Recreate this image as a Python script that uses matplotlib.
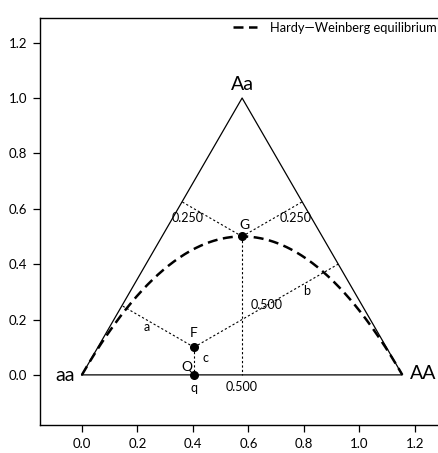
import numpy as np
import matplotlib
matplotlib.use("Agg")
import matplotlib.pyplot as plt

plt.rcParams["font.family"] = ["Lato", "DejaVu Sans"]

# Genotype frequencies (AA, Aa, aa) for the two marked populations
G_freq = [0.25, 0.50, 0.25]
F_freq = [0.30, 0.10, 0.60]
vertex_labels = ["aa", "AA", "Aa"]
tick_values = [0.0, 0.2, 0.4, 0.6, 0.8, 1.0, 1.2]
legend_label = "Hardy\u2014Weinberg equilibrium"

S3 = np.sqrt(3.0)


def to_xy(AA, Aa, aa):
    """Ternary genotype frequencies -> cartesian position in the triangle."""
    return (2 * AA + Aa) / S3, Aa


def foot(p, a, b):
    p, a, b = map(np.asarray, (p, a, b))
    d = b - a
    t = np.dot(p - a, d) / np.dot(d, d)
    return a + t * d


fig = plt.figure(figsize=(4.38, 4.53), dpi=100)
ax = fig.add_axes([0.0913, 0.0618, 0.932, 0.8985])
ax.set_xlim(-0.151, 1.32)
ax.set_ylim(-0.181, 1.289)

# triangle
V_aa = np.array(to_xy(0, 0, 1))
V_AA = np.array(to_xy(1, 0, 0))
V_Aa = np.array(to_xy(0, 1, 0))
tri = np.array([V_aa, V_AA, V_Aa, V_aa])
ax.plot(tri[:, 0], tri[:, 1], color="black", lw=0.9)

# Hardy-Weinberg parabola
p = np.linspace(0, 1, 300)
hx, hy = to_xy(p ** 2, 2 * p * (1 - p), (1 - p) ** 2)
hw_line, = ax.plot(hx, hy, color="black", lw=1.8, dashes=(4, 2.2))

dot_style = dict(color="black", lw=0.8, dashes=(2, 2))

for freq in (G_freq, F_freq):
    P = np.array(to_xy(*freq))
    fl = foot(P, V_aa, V_Aa)
    fr = foot(P, V_AA, V_Aa)
    ax.plot([P[0], fl[0]], [P[1], fl[1]], **dot_style)
    ax.plot([P[0], fr[0]], [P[1], fr[1]], **dot_style)
    ax.plot([P[0], P[0]], [P[1], 0], **dot_style)
    ax.plot(P[0], P[1], "o", color="black", ms=5.5, zorder=5)

Gx, Gy = to_xy(*G_freq)
Fx, Fy = to_xy(*F_freq)
ax.plot(Fx, 0, "o", color="black", ms=5.5, zorder=5)

fs = 10
ax.text(Gx + 0.007, Gy + 0.042, "G", ha="center", va="center", fontsize=fs)
ax.text(Gx - 0.195, Gy + 0.066, f"{G_freq[2]:.3f}", ha="center", va="center", fontsize=fs - 1)
ax.text(Gx + 0.194, Gy + 0.066, f"{G_freq[0]:.3f}", ha="center", va="center", fontsize=fs - 1)
ax.text(Gx + 0.09, Gy / 2 + 0.003, f"{G_freq[1]:.3f}", ha="center", va="center", fontsize=fs - 1)
ax.text(Gx, -0.043, f"{Gx / (2 / S3):.3f}", ha="center", va="center", fontsize=fs - 1)

ax.text(Fx, Fy + 0.052, "F", ha="center", va="center", fontsize=fs)
ax.text(Fx - 0.17, Fy + 0.073, "a", ha="center", va="center", fontsize=fs - 1)
ax.text(Fx + 0.407, Fy + 0.203, "b", ha="center", va="center", fontsize=fs - 1)
ax.text(Fx + 0.043, Fy - 0.04, "c", ha="center", va="center", fontsize=fs - 1)
ax.text(Fx - 0.026, 0.029, "Q", ha="center", va="center", fontsize=fs)
ax.text(Fx, -0.047, "q", ha="center", va="center", fontsize=fs - 1)

ax.text(V_aa[0] - 0.061, -0.004, vertex_labels[0], ha="center", va="center", fontsize=14)
ax.text(V_AA[0] + 0.074, 0.004, vertex_labels[1], ha="center", va="center", fontsize=14)
ax.text(V_Aa[0], 1.047, vertex_labels[2], ha="center", va="center", fontsize=14)

ax.set_xticks(tick_values)
ax.set_yticks(tick_values)
ax.set_xticklabels([f"{t:.1f}" for t in tick_values])
ax.set_yticklabels([f"{t:.1f}" for t in tick_values])
ax.tick_params(direction="out", length=5, width=0.9, labelsize=9.5, pad=4)
for s in ax.spines.values():
    s.set_linewidth(1.0)

ax.legend([hw_line], [legend_label], loc="upper right",
          bbox_to_anchor=(437 / 438, 1 - 22 / 453), bbox_transform=fig.transFigure,
          frameon=False, fontsize=9.3, handlelength=1.9, handletextpad=1.0,
          borderaxespad=0.0, borderpad=0.0)

fig.savefig("out.png", dpi=100)
